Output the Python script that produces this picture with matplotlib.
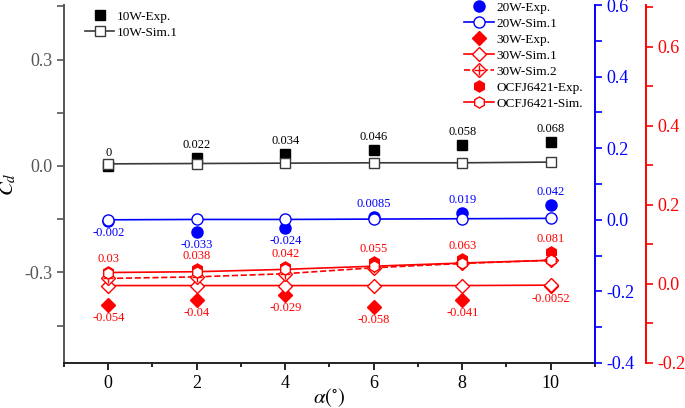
import matplotlib.pyplot as plt
import numpy as np
from matplotlib.ticker import MultipleLocator
from matplotlib.legend_handler import HandlerTuple

plt.rcParams['font.family'] = ['Liberation Serif', 'DejaVu Serif']
plt.rcParams['mathtext.fontset'] = 'stix'

alpha = [0, 2, 4, 6, 8, 10]

# 10W (left axis)
w10_exp = [0, 0.022, 0.034, 0.046, 0.058, 0.068]
w10_sim1 = [0.006, 0.007, 0.008, 0.009, 0.009, 0.011]

# 20W (blue axis)
w20_exp = [-0.002, -0.033, -0.024, 0.0085, 0.019, 0.042]
w20_sim1 = [0.0, 0.001, 0.001, 0.002, 0.003, 0.004]

# 30W and OCFJ6421 (red axis)
w30_exp = [-0.054, -0.04, -0.029, -0.058, -0.041, -0.0052]
w30_sim1 = [-0.004, -0.004, -0.004, -0.004, -0.004, -0.003]
w30_sim2 = [0.014, 0.018, 0.026, 0.041, 0.052, 0.060]
oc_exp = [0.03, 0.038, 0.042, 0.055, 0.063, 0.081]
oc_sim = [0.029, 0.031, 0.037, 0.045, 0.053, 0.060]

w10_lbl = ['0', '0.022', '0.034', '0.046', '0.058', '0.068']
w20_lbl = ['-0.002', '-0.033', '-0.024', '0.0085', '0.019', '0.042']
w30_lbl = ['-0.054', '-0.04', '-0.029', '-0.058', '-0.041', '-0.0052']
oc_lbl = ['0.03', '0.038', '0.042', '0.055', '0.063', '0.081']

gray = '#3a3a3a'
blue = '#0000ff'
red = '#ff0000'

fig = plt.figure(figsize=(6.85, 4.08), dpi=100)
ax1 = fig.add_axes([0.0934, 0.1103, 0.7752, 0.8774])
ax2 = ax1.twinx()
ax3 = ax1.twinx()

# left axis
h1, = ax1.plot(alpha, w10_exp, 's', color='black', ms=7, ls='none')
h2, = ax1.plot(alpha, w10_sim1, 's-', color=gray, mfc='white', mec=gray, ms=7, lw=1.2)
for x, y, t in zip(alpha, w10_exp, w10_lbl):
    ax1.annotate(t, (x, y), xytext=(0, 5), textcoords='offset points',
                 ha='center', va='bottom', fontsize=9, color='black')

ax1.set_xlim(-1, 11)
ax1.set_ylim(-0.555, 0.4535)
ax1.xaxis.set_major_locator(MultipleLocator(2))
ax1.xaxis.set_minor_locator(MultipleLocator(1))
ax1.yaxis.set_major_locator(MultipleLocator(0.3))
ax1.yaxis.set_minor_locator(MultipleLocator(0.15))
ax1.set_yticks([-0.3, 0.0, 0.3])
ax1.set_yticklabels(['-0.3', '0.0', '0.3'])
ax1.tick_params(axis='y', colors='#555555', labelsize=13, direction='out', length=5, width=1.2)
ax1.tick_params(axis='y', which='minor', colors='#555555', direction='out', length=5, width=1.2)
ax1.tick_params(axis='x', colors='black', labelsize=13, direction='out', length=5, width=1.2)
ax1.tick_params(axis='x', which='minor', direction='out', length=3, width=1.2)
for s in ['top', 'right']:
    ax1.spines[s].set_visible(False)
ax1.spines['left'].set_color('#555555')
ax1.spines['left'].set_linewidth(1.4)
ax1.spines['bottom'].set_color('#222222')
ax1.spines['bottom'].set_linewidth(1.4)
ax1.set_ylabel(r'$C_d$', fontsize=15, labelpad=4)
ax1.set_xlabel(r'$\alpha(^{\circ})$', fontsize=15, labelpad=-4)

# blue axis
h3, = ax2.plot(alpha, w20_exp, 'o', color=blue, ms=8, ls='none')
h4, = ax2.plot(alpha, w20_sim1, 'o-', color=blue, mfc='white', mec=blue, ms=8, lw=1.2)
for x, y, t in zip(alpha, w20_exp, w20_lbl):
    if y < 0:
        ax2.annotate(t, (x, y), xytext=(0, -5), textcoords='offset points',
                     ha='center', va='top', fontsize=9, color=blue)
    else:
        ax2.annotate(t, (x, y), xytext=(0, 5), textcoords='offset points',
                     ha='center', va='bottom', fontsize=9, color=blue)
ax2.set_ylim(-0.4, 0.6)
ax2.yaxis.set_major_locator(MultipleLocator(0.2))
ax2.yaxis.set_minor_locator(MultipleLocator(0.1))
ax2.set_yticks([-0.4, -0.2, 0.0, 0.2, 0.4, 0.6])
ax2.set_yticklabels(['-0.4', '-0.2', '0.0', '0.2', '0.4', '0.6'])
ax2.tick_params(axis='y', which='both', colors=blue, labelsize=13, direction='out', length=5, width=1.2)
for s in ['top', 'left', 'bottom']:
    ax2.spines[s].set_visible(False)
ax2.spines['right'].set_color(blue)
ax2.spines['right'].set_linewidth(1.4)

# red axis
h5, = ax3.plot(alpha, w30_exp, 'D', color=red, ms=7, ls='none')
h6, = ax3.plot(alpha, w30_sim1, 'D-', color=red, mfc='white', mec=red, ms=7, lw=1.2)
h7a, = ax3.plot(alpha, w30_sim2, 'D--', color=red, mfc='white', mec=red, ms=7, lw=1.2)
h7b, = ax3.plot(alpha, w30_sim2, '+', color=red, ms=7, mew=1.0, ls='none')
h8, = ax3.plot(alpha, oc_exp, 'h', color=red, ms=8, ls='none')
h9, = ax3.plot(alpha, oc_sim, 'h-', color=red, mfc='white', mec=red, ms=8, lw=1.2)
for x, y, t in zip(alpha, w30_exp, w30_lbl):
    ax3.annotate(t, (x, y), xytext=(0, -5), textcoords='offset points',
                 ha='center', va='top', fontsize=9, color=red)
for x, y, t in zip(alpha, oc_exp, oc_lbl):
    ax3.annotate(t, (x, y), xytext=(0, 5), textcoords='offset points',
                 ha='center', va='bottom', fontsize=9, color=red)
ax3.set_ylim(-0.2, 0.706)
ax3.set_yticks([-0.2, 0.0, 0.2, 0.4, 0.6])
ax3.set_yticklabels(['-0.2', '0.0', '0.2', '0.4', '0.6'])
ax3.yaxis.set_minor_locator(MultipleLocator(0.1))
ax3.tick_params(axis='y', which='both', colors=red, labelsize=13, direction='out', length=5, width=1.2)
for s in ['top', 'left', 'bottom']:
    ax3.spines[s].set_visible(False)
ax3.spines['right'].set_position(('outward', 36.7))
ax3.spines['right'].set_color(red)
ax3.spines['right'].set_linewidth(1.4)

leg1 = ax3.legend([h1, h2], ['10W-Exp.', '10W-Sim.1'], loc='upper left',
                  bbox_to_anchor=(0.0225, 1.01), frameon=False, fontsize=9.5,
                  handlelength=2.2, handletextpad=0.2, labelspacing=0.3, borderaxespad=0.3)
ax3.add_artist(leg1)
ax3.legend([h3, h4, h5, h6, (h7a, h7b), h8, h9],
           ['20W-Exp.', '20W-Sim.1', '30W-Exp.', '30W-Sim.1', '30W-Sim.2',
            'OCFJ6421-Exp.', 'OCFJ6421-Sim.'],
           handler_map={tuple: HandlerTuple(ndivide=1, pad=0)},
           loc='upper left', bbox_to_anchor=(0.735, 1.035), frameon=False, fontsize=9.5,
           handlelength=2.3, handletextpad=0.2, labelspacing=0.28, borderaxespad=0.3)

fig.savefig('out.png', dpi=100)
